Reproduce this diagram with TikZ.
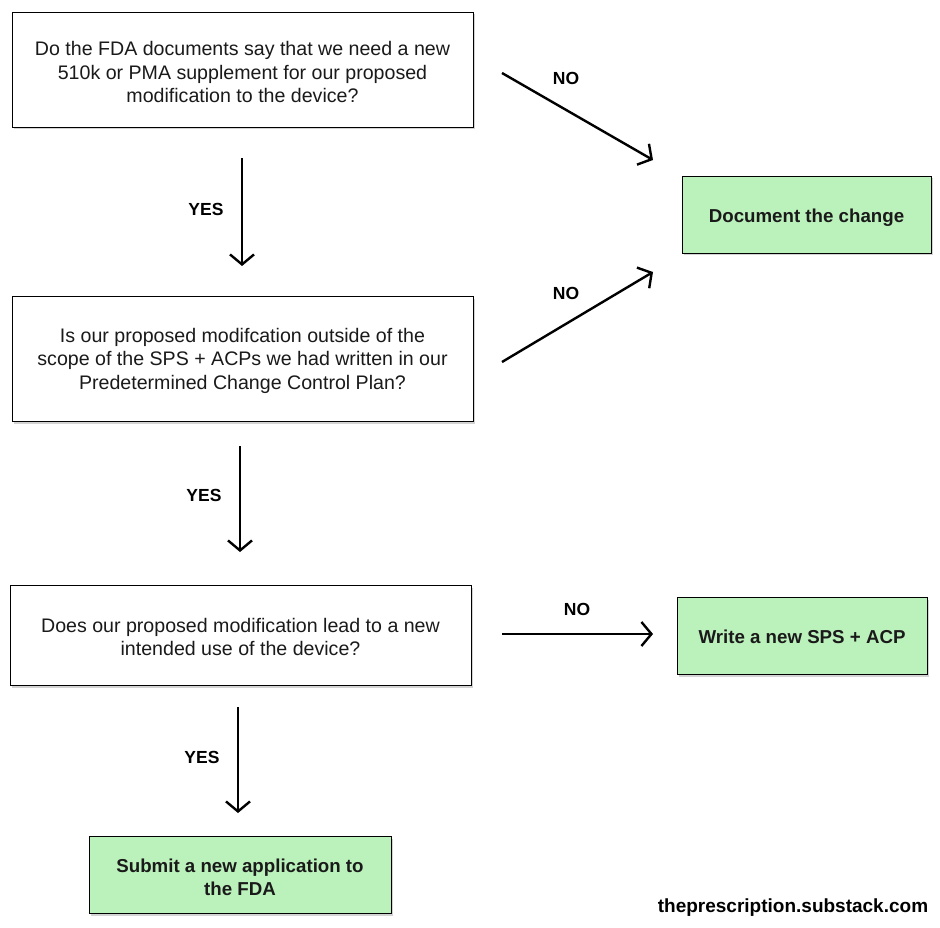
\documentclass[tikz,border=0pt]{standalone}
\usepackage{fontspec}
\setmainfont{Liberation Sans}
\usetikzlibrary{arrows.meta,shadows}
\definecolor{boxgreen}{HTML}{BBF1BB}
\definecolor{txt}{HTML}{1A1A1A}
\tikzset{
  qbox/.style={draw=black, line width=0.9pt, fill=white, inner sep=0pt,
    drop shadow={shadow xshift=1.5pt, shadow yshift=-2.5pt, opacity=0.35, fill=gray}},
  abox/.style={qbox, fill=boxgreen},
  qtext/.style={align=center, text=txt, font=\fontsize{19.6}{23.5}\selectfont, inner sep=0pt},
  atext/.style={qtext, font=\bfseries\fontsize{18.7}{23}\selectfont},
  flow/.style={line width=2.4pt, -{Straight Barb[length=10pt,width=24pt,line width=2.4pt]}},
  lab/.style={font=\bfseries\fontsize{17.5}{20}\selectfont, text=black},
}
\begin{document}
\begin{tikzpicture}[x=1pt,y=-1pt]
\useasboundingbox (0,0) rectangle (940,928);
% boxes
\node[qbox, minimum width=461pt, minimum height=115pt] (q1) at (242.5,69.5) {};
\node[qtext] (q1t) at ([yshift=-2.5pt]q1.center)
  {Do the FDA documents say that we need a new\\510k or PMA supplement for our proposed\\modification to the device?};
\node[qbox, minimum width=461pt, minimum height=125pt] (q2) at (242.5,358.5) {};
\node[qtext] (q2t) at ([yshift=-2pt]q2.center)
  {Is our proposed modifcation outside of the\\scope of the SPS + ACPs we had written in our\\Predetermined Change Control Plan?};
\node[qbox, minimum width=461pt, minimum height=100pt] (q3) at (240.5,635) {};
\node[qtext] (q3t) at ([yshift=-2pt]q3.center)
  {Does our proposed modification lead to a new\\intended use of the device?};
\node[abox, minimum width=249pt, minimum height=77pt] (doc) at (806.5,214.5) {};
\node[atext] (doct) at ([yshift=-3pt]doc.center) {Document the change};
\node[abox, minimum width=250pt, minimum height=77pt] (sps) at (802,635.5) {};
\node[atext] (spst) at ([yshift=-1.5pt]sps.center) {Write a new SPS + ACP};
\node[abox, minimum width=302pt, minimum height=77pt] (sub) at (240,874.5) {};
\node[atext] (subt) at ([yshift=-2.5pt]sub.center) {Submit a new application to\\the FDA};
% arrow end points
\coordinate (a1s) at (242,158); \coordinate (a1e) at (242,266);
\coordinate (a2s) at (502,73);  \coordinate (a2e) at (653,160);
\coordinate (a3s) at (502,362); \coordinate (a3e) at (653,272);
\coordinate (a4s) at (240,446); \coordinate (a4e) at (240,552);
\coordinate (a5s) at (502,634); \coordinate (a5e) at (653,634);
\coordinate (a6s) at (238,707); \coordinate (a6e) at (238,813);
\draw[flow] (a1s) -- (a1e);
\draw[flow] (a2s) -- (a2e);
\draw[flow] (a3s) -- (a3e);
\draw[flow] (a4s) -- (a4e);
\draw[flow] (a5s) -- (a5e);
\draw[flow] (a6s) -- (a6e);
% labels
\node[lab] (y1) at (206,209) {YES};
\node[lab] (n1) at (566,78) {NO};
\node[lab] (n2) at (566,293) {NO};
\node[lab] (y2) at (204,495) {YES};
\node[lab] (n3) at (577,609) {NO};
\node[lab] (y3) at (202,757) {YES};
\node[font=\bfseries\fontsize{19}{22}\selectfont, text=black] (web) at (793,908) {theprescription.substack.com};
\end{tikzpicture}
\end{document}
